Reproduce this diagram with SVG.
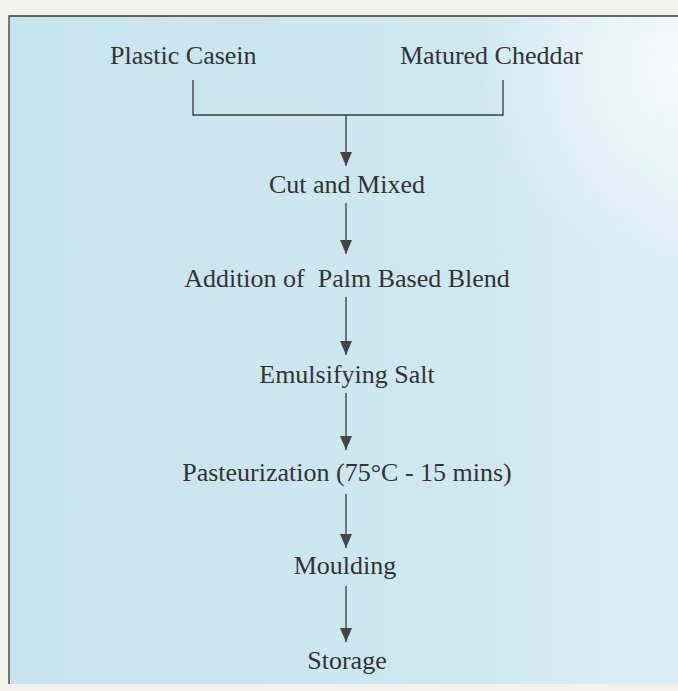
<svg xmlns="http://www.w3.org/2000/svg" width="678" height="691" viewBox="0 0 678 691">
  <defs>
    <linearGradient id="bg" x1="0" y1="0" x2="1" y2="0">
      <stop offset="0" stop-color="#c8e4ee"/>
      <stop offset="0.7" stop-color="#cfe8f0"/>
      <stop offset="1" stop-color="#dcEEf3"/>
    </linearGradient>
    <radialGradient id="glow" cx="1" cy="0.08" r="0.3">
      <stop offset="0" stop-color="#ffffff" stop-opacity="0.7"/>
      <stop offset="1" stop-color="#ffffff" stop-opacity="0"/>
    </radialGradient>
    <marker id="arrow" viewBox="0 0 14 12" refX="14" refY="6" markerWidth="14" markerHeight="12" markerUnits="userSpaceOnUse" orient="auto">
      <path d="M0,0 L14,6 L0,12 Z" fill="#454545"/>
    </marker>
    <style>
      .lbl { font-family: "Liberation Serif", "Times New Roman", serif; font-size: 26px; fill: #333333; white-space: pre; }
      .mid { text-anchor: middle; }
      .ln { stroke: #3a3a3a; stroke-width: 1.3; fill: none; }
    </style>
  </defs>
  <rect x="0" y="0" width="678" height="691" fill="#f3f1ec"/>
  <rect x="9" y="16" width="669" height="668" fill="url(#bg)"/>
  <rect x="9" y="16" width="669" height="668" fill="url(#glow)"/>
  <path d="M9,684 L9,16 L678,16" class="ln" stroke-width="1.6"/>

  <g id="connectors">
    <path class="ln" d="M193,80 L193,115 L503,115 L503,80"/>
    <path class="ln" d="M346,115 L346,166" marker-end="url(#arrow)"/>
    <path class="ln" d="M346,203 L346,254" marker-end="url(#arrow)"/>
    <path class="ln" d="M346,297 L346,355" marker-end="url(#arrow)"/>
    <path class="ln" d="M346,393 L346,450" marker-end="url(#arrow)"/>
    <path class="ln" d="M346,494 L346,548" marker-end="url(#arrow)"/>
    <path class="ln" d="M346,586 L346,642" marker-end="url(#arrow)"/>
  </g>

  <g id="node-plastic-casein"><text class="lbl" x="110" y="64">Plastic Casein</text></g>
  <g id="node-matured-cheddar"><text class="lbl" x="400" y="64">Matured Cheddar</text></g>
  <g id="node-cut-and-mixed"><text class="lbl mid" x="347" y="193">Cut and Mixed</text></g>
  <g id="node-addition"><text class="lbl mid" x="347" y="287" xml:space="preserve">Addition of  Palm Based Blend</text></g>
  <g id="node-emulsifying-salt"><text class="lbl mid" x="347" y="383">Emulsifying Salt</text></g>
  <g id="node-pasteurization"><text class="lbl mid" x="347" y="481">Pasteurization (75°C - 15 mins)</text></g>
  <g id="node-moulding"><text class="lbl mid" x="345" y="574">Moulding</text></g>
  <g id="node-storage"><text class="lbl mid" x="347" y="669">Storage</text></g>
</svg>
